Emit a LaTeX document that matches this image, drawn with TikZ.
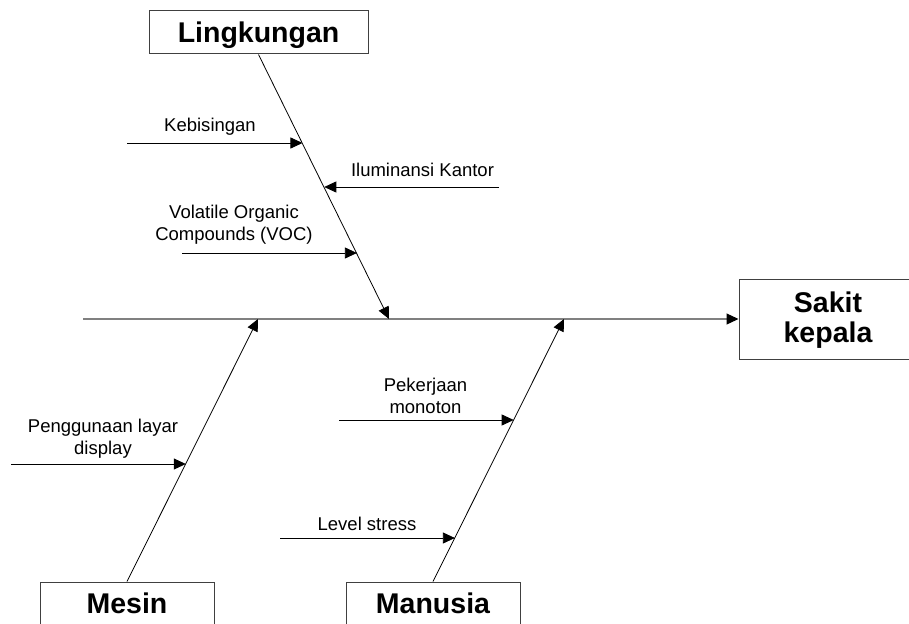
\documentclass[tikz,border=0pt]{standalone}
\usepackage{fontspec}
\setmainfont{Liberation Sans}
\usetikzlibrary{arrows.meta,calc}
\begin{document}
\begin{tikzpicture}[x=1pt,y=-1pt,
  catbox/.style={draw=black!75, line width=1pt, font=\fontsize{28.5}{30}\selectfont\bfseries, text depth=0pt, inner sep=0pt},
  cattext/.style={font=\fontsize{28.5}{30}\selectfont\bfseries, align=center, anchor=base, inner sep=0pt},
  causelbl/.style={font=\fontsize{18.5}{21.5}\selectfont, align=center, anchor=base, inner sep=0pt},
  bonearr/.style={draw=black, line width=0.8pt, -{Triangle[length=12pt,width=11pt]}},
  spinearr/.style={draw=black!50, line width=1.2pt, -{Triangle[length=12pt,width=11pt,color=black]}},
]
\useasboundingbox (0,0) rectangle (909,623);
% category boxes
\node[catbox, minimum width=219pt, minimum height=43pt] (ling) at (258.5,32.5) {Lingkungan};
\node[catbox, minimum width=174pt, minimum height=42pt] (mesin) at (127,603) {Mesin};
\node[catbox, minimum width=174pt, minimum height=42pt] (manusia) at (433,603) {Manusia};
\node[catbox, minimum width=178pt, minimum height=80pt] (sakit) at (828,319) {};
\node[cattext] (sakittxt) at ([yshift=-23pt]sakit.center) {Sakit\\kepala};
% spine
\coordinate (sp0) at (83,319);
\draw[spinearr] (sp0) -- (sakit.west);
% bones
\coordinate (lt) at (389,319);
\coordinate (mt) at (258,319);
\coordinate (nt) at (564,319);
\draw[bonearr] (ling.south) -- (lt);
\draw[bonearr] (mesin.north) -- (mt);
\draw[bonearr] (manusia.north) -- (nt);
% points on bones
\coordinate (kb) at ($(ling.south)!0.337!(lt)$);
\coordinate (ib) at ($(ling.south)!0.504!(lt)$);
\coordinate (vb) at ($(ling.south)!0.754!(lt)$);
\coordinate (pb) at ($(mesin.north)!0.449!(mt)$);
\coordinate (mb) at ($(manusia.north)!0.616!(nt)$);
\coordinate (lb) at ($(manusia.north)!0.167!(nt)$);
% cause arrows
\coordinate (k0) at (127,143);
\coordinate (i0) at (499,187);
\coordinate (v0) at (182,253);
\coordinate (p0) at (11,464);
\coordinate (m0) at (339,420);
\coordinate (l0) at (280,538);
\draw[bonearr] (k0) -- (k0 -| kb);
\draw[bonearr] (i0) -- (i0 -| ib);
\draw[bonearr] (v0) -- (v0 -| vb);
\draw[bonearr] (p0) -- (p0 -| pb);
\draw[bonearr] (m0) -- (m0 -| mb);
\draw[bonearr] (l0) -- (l0 -| lb);
% labels (base anchor = baseline of last line)
\node[causelbl] (kebl) at (210,131.7) {Kebisingan};
\node[causelbl] (ilul) at (422.5,176.7) {Iluminansi Kantor};
\node[causelbl] (vocl) at (234,240) {Volatile Organic\\Compounds (VOC)};
\node[causelbl] (penl) at (103,454) {Penggunaan layar\\display};
\node[causelbl] (pekl) at (425.5,413) {Pekerjaan\\monoton};
\node[causelbl] (levl) at (367,530.7) {Level stress};
\end{tikzpicture}
\end{document}
